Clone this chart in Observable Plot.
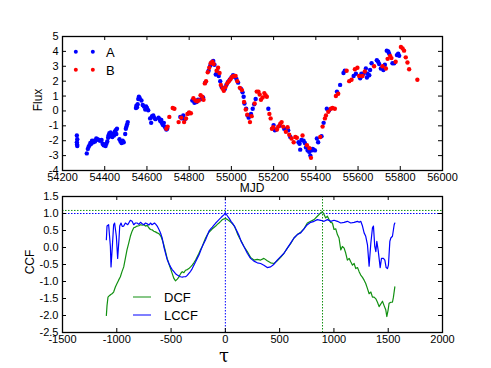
<!DOCTYPE html>
<html><head><meta charset="utf-8">
<script src="https://cdn.jsdelivr.net/npm/d3@7"></script>
<script src="https://cdn.jsdelivr.net/npm/@observablehq/plot@0.6"></script>
<style>
html,body{margin:0;padding:0;background:#fff;}
#fig{position:relative;width:491px;height:368px;font-family:"Liberation Sans",Arial,sans-serif;color:#000;}
.abs{position:absolute;white-space:nowrap;}
.c{transform:translate(-50%,-50%);}
.lv{transform:translateY(-50%);}
.dot{position:absolute;width:4.4px;height:4.4px;border-radius:50%;transform:translate(-50%,-50%);}
.seg{position:absolute;height:0;border-top:1.4px solid;transform:translateY(-50%);}
</style>
</head><body>
<div id="fig">
  <div id="topPanel" class="abs" style="left:0;top:0"></div>
  <div id="botPanel" class="abs" style="left:0;top:180px"></div>
  <div class="abs c" style="left:38px;top:100px;font-size:12px;transform:translate(-50%,-50%) rotate(-90deg)">Flux</div>
  <div class="abs c" style="left:252px;top:188px;font-size:12px">MJD</div>
  <div class="abs c" style="left:30px;top:262px;font-size:12px;transform:translate(-50%,-50%) rotate(-90deg)">CCF</div>
  <div class="abs c" style="left:224px;top:355.5px;font-size:18px;line-height:10px;font-family:'DejaVu Serif',serif">τ</div>
  <div class="dot" style="left:76px;top:52px;background:blue"></div>
  <div class="dot" style="left:93px;top:52px;background:blue"></div>
  <div class="abs lv" style="left:106px;top:52px;font-size:13px">A</div>
  <div class="dot" style="left:76px;top:70px;background:red"></div>
  <div class="dot" style="left:93px;top:70px;background:red"></div>
  <div class="abs lv" style="left:106px;top:70px;font-size:13px">B</div>
  <div class="seg" style="left:133px;top:297px;width:18px;border-color:#119011"></div>
  <div class="abs lv" style="left:164px;top:297px;font-size:13px">DCF</div>
  <div class="seg" style="left:133px;top:315px;width:18px;border-color:blue"></div>
  <div class="abs lv" style="left:164px;top:315px;font-size:13px">LCCF</div>
</div>
<script>
// ---- Top panel data ----
const aMjd = [54268,54268,54269,54270,54270,54315,54320,54324,54328,54332,54336,54340,54346,54350,54354,54360,54366,54372,54378,54385,54390,54395,54400,54404,54408,54412,54416,54418,54422,54425,54428,54432,54436,54440,54444,54448,54452,54455,54458,54470,54475,54480,54485,54490,54497,54500,54503,54506,54509,54548,54550,54553,54556,54559,54562,54566,54574,54580,54586,54592,54596,54600,54606,54615,54620,54624,54630,54634,54640,54655,54660,54664,54668,54672,54676,54680,54684,54688,54692,54696,
54758,54766,54772,54780,54798,54815,54825,54835,54842,54858,54866,54876,54892,54900,54906,54914,54920,54926,54934,54940,54947,54954,54962,54968,54976,54984,54992,55000,55008,55016,55024,55032,55045,55053,55058,55062,55070,55077,55082,55093,55101,55108,55115,55175,55200,55206,55212,55228,55250,55269,55279,55318,55323,55326,55332,55342,55348,55353,55361,55369,55374,55380,55385,55389,55396,55405,55411,55427,55437,55452,55463,55500,55515,55531,55537,55579,55590,55610,55616,55626,55637,55642,55645,55653,55657,55664,55689,55695,55700,55708,55720,55727,55736,55743,55747,55763,55771,55784,55790,55795];
const aFlux = [-1.65,-2.1,-2.25,-2.35,-1.9,-2.85,-2.55,-2.4,-2.3,-2.15,-2.2,-2.0,-2.1,-2.0,-2.05,-1.85,-1.9,-1.95,-2.0,-1.95,-2.2,-2.3,-2.25,-2.35,-2.2,-2.05,-1.8,-1.65,-1.5,-1.7,-1.45,-1.6,-1.75,-1.55,-1.65,-1.4,-1.3,-1.55,-1.2,-1.9,-2.05,-2.15,-2.0,-2.1,-1.55,-1.2,-1.05,-0.9,-0.75,0.2,0.35,0.25,0.45,0.8,0.95,0.85,0.7,0.4,0.3,0.1,0.3,0.2,0.05,-0.5,-0.8,-0.35,-0.3,-0.45,-0.55,-0.45,-0.55,-0.7,-0.6,-0.85,-0.95,-0.8,-1.05,-1.15,-1.25,-1.2,
-0.4,-0.5,-0.3,-0.55,-0.15,0.7,0.55,0.6,0.75,0.8,0.9,1.9,2.7,3.05,3.25,3.35,3.1,2.45,2.6,2.35,2.0,1.6,1.5,1.45,1.75,1.95,2.1,2.25,2.4,2.3,2.15,1.9,1.5,1.25,0.95,0.5,0.15,-0.3,-0.45,-0.2,0.15,0.45,0.8,0.15,-0.95,-1.3,-1.25,-1.0,-1.2,-1.3,-1.75,-2.1,-2.2,-2.6,-1.95,-2.0,-2.15,-2.45,-2.65,-2.75,-3.0,-2.65,-2.55,-2.6,-2.65,-1.85,-2.1,-1.7,-0.8,0.15,0.05,1.3,1.75,2.55,2.7,2.35,2.5,2.2,2.5,2.5,2.85,2.25,2.5,2.4,2.75,3.2,3.4,3.3,3.15,2.85,2.75,3.1,4.05,4.0,3.85,3.2,3.2,3.75,3.85,3.7];
const bMjd = [54692,54698,54706,54722,54730,54750,54762,54776,54785,54792,54800,54808,54820,54830,54838,54846,54854,54862,54868,54874,54880,54888,54895,54902,54910,54916,54930,54937,54944,54950,54958,54964,54972,54980,54988,54996,55004,55012,55020,55028,55040,55050,55060,55068,55075,55088,55096,55110,55120,55128,55134,55140,55148,55156,55162,55168,55180,55186,55192,55198,55216,55222,55232,55238,55245,55258,55266,55274,55285,55295,55303,55310,55337,55358,55370,55377,55421,55432,55443,55448,55459,55471,55479,55490,55495,55506,55546,55558,55569,55585,55597,55605,55621,55632,55676,55716,55732,55740,55752,55758,55778,55803,55811,55818,55826,55834,55842,55881];
const bFlux = [-1.2,-1.05,-0.4,0.2,0.15,-0.75,-0.45,-0.75,-0.5,-0.2,-0.1,-0.15,0.85,0.7,0.65,0.7,1.05,0.95,0.75,1.85,2.0,2.6,2.9,3.2,3.3,3.15,2.7,2.9,2.55,1.75,1.5,1.35,1.6,1.85,2.0,2.15,2.3,2.35,2.35,2.0,1.55,1.4,0.6,0.1,-0.25,-0.75,-0.35,0.5,1.3,1.3,1.1,0.75,0.9,1.2,1.05,0.95,-0.2,-0.5,-1.2,-1.1,-1.25,-1.05,-0.85,-0.75,-1.05,-1.4,-1.1,-1.6,-1.85,-2.1,-1.75,-1.8,-1.65,-2.3,-2.5,-3.15,-1.75,-1.05,-0.5,-0.3,-0.05,0.15,0.2,0.15,1.0,1.15,2.7,2.0,2.1,2.8,2.9,2.35,2.35,2.65,3.0,3.0,2.85,3.5,3.7,3.55,3.3,4.3,4.2,4.05,3.6,3.25,2.8,2.1];
const mjdTicks = [54200,54400,54600,54800,55000,55200,55400,55600,55800,56000];
const fluxTicks = [-4,-3,-2,-1,0,1,2,3,4,5];

// ---- Bottom panel data ----
const lccfTau = [-1096,-1090,-1075,-1059,-1053,-1041,-1029,-1020,-1004,-992,-980,-973,-961,-950,-936,-921,-899,-875,-859,-844,-828,-813,-797,-782,-766,-751,-735,-720,-705,-690,-675,-653,-640,-628,-615,-604,-592,-582,-567,-551,-536,-520,-505,-490,-474,-459,-443,-428,-413,-397,-382,-366,-351,-336,-320,-305,-290,-274,-259,-243,-228,-213,-197,-182,-166,-151,-135,-120,-105,-89,-74,-59,-43,-28,-14,0,10,21,37,52,68,83,99,114,130,145,171,202,232,263,294,325,355,386,417,448,478,509,540,571,601,632,663,694,724,755,786,817,847,878,909,940,970,1001,1032,1063,1094,1124,1155,1186,1217,1232,1247,1263,1278,1293,1309,1324,1340,1355,1364,1376,1386,1395,1407,1426,1438,1456,1469,1481,1493,1502,1515,1524,1539,1555,1561];
const lccfVal = [0.23,0.63,0.67,0.03,-0.57,0.03,0.67,0.72,0.33,-0.32,0.23,0.63,0.72,0.62,0.63,0.72,0.67,0.8,0.77,0.67,0.72,0.72,0.68,0.74,0.70,0.67,0.72,0.7,0.66,0.72,0.67,0.72,0.68,0.63,0.55,0.48,0.38,0.28,0.03,-0.17,-0.35,-0.47,-0.57,-0.65,-0.71,-0.77,-0.81,-0.84,-0.86,-0.87,-0.86,-0.86,-0.82,-0.76,-0.70,-0.62,-0.52,-0.42,-0.32,-0.22,-0.10,0.03,0.13,0.23,0.36,0.48,0.55,0.6,0.66,0.72,0.77,0.82,0.87,0.92,0.96,1.02,0.97,0.92,0.85,0.77,0.70,0.63,0.53,0.43,0.32,0.18,0.03,-0.17,-0.32,-0.40,-0.45,-0.47,-0.52,-0.59,-0.57,-0.49,-0.37,-0.27,-0.17,-0.02,0.13,0.28,0.38,0.43,0.55,0.67,0.74,0.77,0.82,0.8,0.77,0.82,0.77,0.8,0.77,0.72,0.74,0.77,0.72,0.74,0.77,0.74,0.77,0.63,0.43,0.33,0.08,-0.55,0.13,0.58,0.63,0.03,-0.12,0.18,-0.07,-0.59,-0.32,-0.32,-0.37,-0.59,-0.62,-0.52,0.18,0.28,0.33,0.67,0.72];
const dcfTau = [-1096,-1090,-1081,-1066,-1055,-1044,-1029,-1013,-998,-983,-967,-952,-936,-921,-906,-890,-875,-859,-844,-828,-813,-797,-782,-766,-751,-735,-720,-705,-690,-675,-659,-644,-628,-615,-604,-592,-582,-567,-551,-536,-521,-505,-490,-474,-459,-443,-430,-419,-408,-397,-382,-367,-350,-336,-320,-305,-290,-274,-259,-243,-228,-213,-197,-182,-166,-151,-135,-120,-105,-89,-74,-59,-43,-28,-14,0,10,21,37,52,68,83,99,114,130,145,171,202,232,263,294,325,355,386,417,448,478,509,540,571,601,632,663,694,724,755,786,817,847,878,894,909,924,940,955,970,986,1001,1017,1032,1047,1063,1078,1094,1109,1124,1140,1155,1171,1186,1201,1217,1232,1247,1263,1278,1293,1309,1324,1340,1355,1370,1386,1401,1416,1432,1447,1462,1478,1487,1499,1508,1524,1539,1548,1561];
const dcfVal = [-2.0,-1.71,-1.46,-1.41,-1.38,-1.36,-1.31,-1.16,-1.06,-0.96,-0.86,-0.71,-0.57,-0.32,-0.07,0.13,0.33,0.48,0.58,0.60,0.63,0.64,0.67,0.66,0.67,0.63,0.65,0.58,0.53,0.52,0.48,0.46,0.43,0.41,0.38,0.32,0.23,0.08,-0.12,-0.32,-0.47,-0.62,-0.76,-0.91,-0.98,-0.93,-0.88,-0.81,-0.75,-0.71,-0.74,-0.67,-0.65,-0.62,-0.57,-0.52,-0.45,-0.37,-0.27,-0.17,-0.06,0.03,0.16,0.28,0.37,0.45,0.5,0.55,0.59,0.63,0.68,0.72,0.77,0.82,0.84,0.85,0.84,0.82,0.78,0.74,0.69,0.63,0.51,0.38,0.28,0.2,0.03,-0.12,-0.29,-0.37,-0.35,-0.37,-0.32,-0.39,-0.45,-0.47,-0.39,-0.29,-0.17,-0.02,0.11,0.28,0.38,0.45,0.55,0.72,0.77,0.82,0.92,1.02,1.05,0.97,0.87,0.92,0.82,0.74,0.72,0.53,0.55,0.38,0.28,-0.07,0.03,-0.02,-0.17,-0.37,-0.32,-0.42,-0.52,-0.47,-0.62,-0.59,-0.71,-0.81,-0.88,-0.96,-1.06,-1.21,-1.36,-1.31,-1.46,-1.46,-1.51,-1.61,-1.74,-1.66,-1.58,-1.71,-1.84,-2.03,-1.84,-1.64,-1.61,-1.61,-1.46,-1.16];
const tauTicks = [-1500,-1000,-500,0,500,1000,1500,2000];
const ccfTicks = [-2.5,-2.0,-1.5,-1.0,-0.5,0.0,0.5,1.0,1.5];
const peakTau = {dcf: 895, lccf: 0};
const peakCcf = {dcf: 1.09, lccf: 1.0};

const GREEN = "#119011", BLUE = "blue", RED = "red";
const font = {fontSize: "11px", fontFamily: "'Liberation Sans', Arial, sans-serif", background: "transparent", overflow: "visible"};
const ptsA = aMjd.map((x, i) => ({x, y: aFlux[i]}));
const ptsB = bMjd.map((x, i) => ({x, y: bFlux[i]}));
const dcf = dcfTau.map((x, i) => ({x, y: dcfVal[i]}));
const lccf = lccfTau.map((x, i) => ({x, y: lccfVal[i]}));

function inwardTicks(xt, yt, pw, ph) {
  const t = 4;
  return [
    Plot.tickX(xt, {x: d => d, insetTop: ph - t, stroke: "black"}),
    Plot.tickX(xt, {x: d => d, insetBottom: ph - t, stroke: "black"}),
    Plot.tickY(yt, {y: d => d, insetRight: pw - t, stroke: "black"}),
    Plot.tickY(yt, {y: d => d, insetLeft: pw - t, stroke: "black"})
  ];
}

const W = 491, ML = 62, MR = 49;
const topH = 190, topMT = 36, topMB = 20;
const topChart = Plot.plot({
  width: W, height: topH, marginLeft: ML, marginRight: MR, marginTop: topMT, marginBottom: topMB,
  style: font,
  x: {domain: [54200, 56000]},
  y: {domain: [-4, 5]},
  marks: [
    Plot.dot(ptsA, {x: "x", y: "y", r: 2.2, fill: BLUE}),
    Plot.dot(ptsB, {x: "x", y: "y", r: 2.2, fill: RED}),
    ...inwardTicks(mjdTicks, fluxTicks, W - ML - MR, topH - topMT - topMB),
    Plot.axisX({ticks: mjdTicks, tickSize: 0, tickPadding: 3, tickFormat: d => String(d), label: null}),
    Plot.axisY({ticks: fluxTicks, tickSize: 0, tickPadding: 4, tickFormat: d => String(d), label: null}),
    Plot.frame({stroke: "black", strokeWidth: 1.3})
  ]
});
document.getElementById("topPanel").appendChild(topChart);

const botH = 188, botMT = 16, botMB = 36;
const botChart = Plot.plot({
  width: W, height: botH, marginLeft: ML, marginRight: MR, marginTop: botMT, marginBottom: botMB,
  style: font,
  x: {domain: [-1500, 2000]},
  y: {domain: [-2.5, 1.5]},
  marks: [
    Plot.ruleY([peakCcf.dcf], {stroke: GREEN, strokeDasharray: "1.5,1.5", strokeWidth: 1}),
    Plot.ruleY([peakCcf.lccf], {stroke: BLUE, strokeDasharray: "1.5,1.5", strokeWidth: 1}),
    Plot.ruleX([peakTau.lccf], {stroke: BLUE, strokeDasharray: "1.5,1.5", strokeWidth: 1}),
    Plot.ruleX([peakTau.dcf], {stroke: GREEN, strokeDasharray: "1.5,1.5", strokeWidth: 1}),
    Plot.line(dcf, {x: "x", y: "y", stroke: GREEN, strokeWidth: 1.2}),
    Plot.line(lccf, {x: "x", y: "y", stroke: BLUE, strokeWidth: 1.2}),
    ...inwardTicks(tauTicks, ccfTicks, W - ML - MR, botH - botMT - botMB),
    Plot.axisX({ticks: tauTicks, tickSize: 0, tickPadding: 3, tickFormat: d => String(d), label: null}),
    Plot.axisY({ticks: ccfTicks, tickSize: 0, tickPadding: 4, tickFormat: d => d.toFixed(1), label: null}),
    Plot.frame({stroke: "black", strokeWidth: 1.3})
  ]
});
document.getElementById("botPanel").appendChild(botChart);
</script>
</body></html>
